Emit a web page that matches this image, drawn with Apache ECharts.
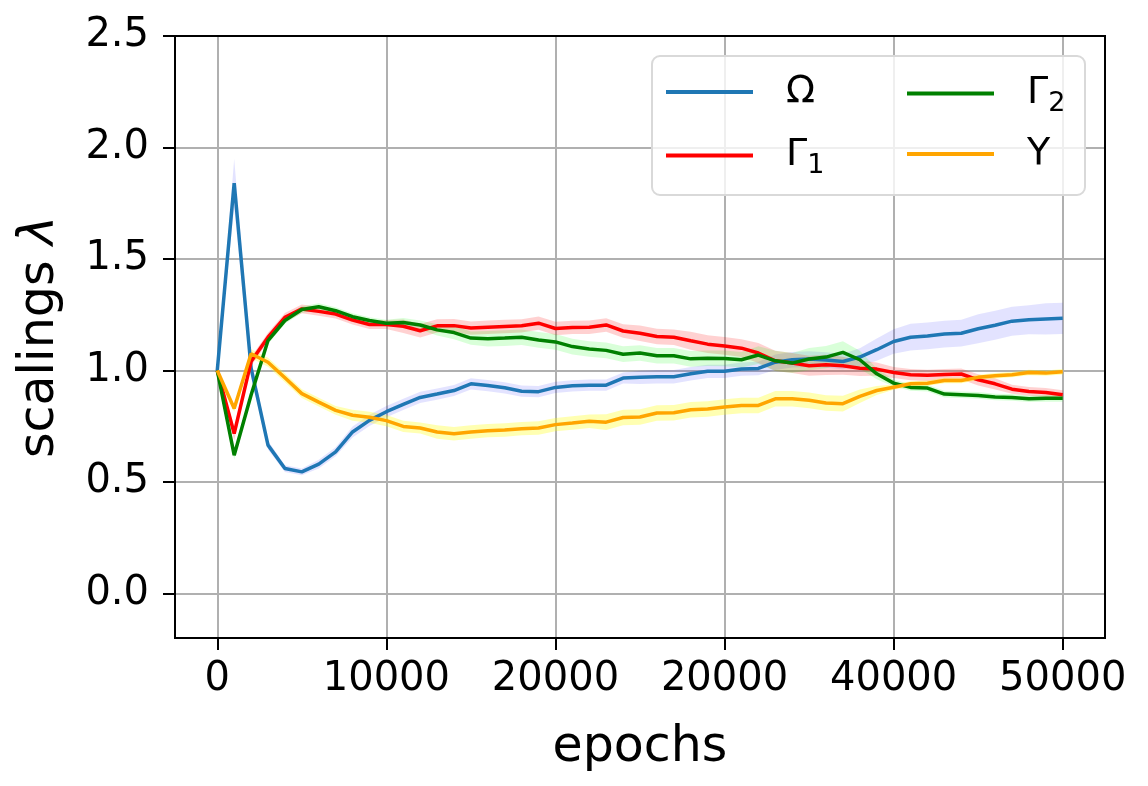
<!DOCTYPE html>
<html>
<head>
<meta charset="utf-8">
<script src="https://cdn.jsdelivr.net/npm/echarts@6/dist/echarts.min.js"></script>
<style>
html,body{margin:0;padding:0;background:#fff;}
#chart{width:1148px;height:786px;}
</style>
</head>
<body>
<div id="chart"></div>
<script>
const epochs = [0,1000,2000,3000,4000,5000,6000,7000,8000,9000,10000,11000,12000,13000,14000,15000,16000,17000,18000,19000,20000,21000,22000,23000,24000,25000,26000,27000,28000,29000,30000,31000,32000,33000,34000,35000,36000,37000,38000,39000,40000,41000,42000,43000,44000,45000,46000,47000,48000,49000,50000];

const omega = [1.0,1.84,1.01,0.665,0.56,0.545,0.58,0.635,0.724,0.776,0.815,0.848,0.879,0.894,0.91,0.94,0.932,0.922,0.907,0.905,0.924,0.931,0.934,0.934,0.966,0.969,0.972,0.972,0.985,0.996,0.996,1.006,1.009,1.037,1.048,1.051,1.047,1.04,1.06,1.093,1.13,1.149,1.155,1.163,1.167,1.187,1.203,1.221,1.227,1.231,1.234];
const gamma1 = [1.0,0.717,1.04,1.149,1.238,1.276,1.265,1.253,1.226,1.206,1.206,1.198,1.178,1.2,1.201,1.19,1.194,1.197,1.2,1.212,1.188,1.193,1.194,1.204,1.177,1.167,1.152,1.149,1.133,1.118,1.11,1.1,1.078,1.043,1.033,1.021,1.025,1.021,1.01,1.006,0.991,0.981,0.978,0.982,0.984,0.958,0.94,0.916,0.906,0.901,0.891];
const gamma2 = [1.0,0.62,0.89,1.134,1.224,1.273,1.286,1.268,1.241,1.224,1.212,1.215,1.204,1.182,1.17,1.145,1.142,1.145,1.149,1.137,1.128,1.107,1.096,1.09,1.073,1.078,1.066,1.066,1.052,1.055,1.054,1.048,1.069,1.043,1.033,1.051,1.06,1.081,1.048,0.985,0.943,0.924,0.921,0.894,0.891,0.888,0.881,0.879,0.873,0.875,0.875];
const upsilon = [1.0,0.829,1.075,1.037,0.967,0.896,0.858,0.821,0.799,0.79,0.775,0.749,0.742,0.724,0.716,0.724,0.73,0.733,0.739,0.742,0.757,0.764,0.772,0.768,0.789,0.791,0.809,0.81,0.824,0.827,0.836,0.843,0.843,0.873,0.873,0.866,0.854,0.851,0.884,0.91,0.925,0.94,0.943,0.955,0.955,0.969,0.976,0.981,0.991,0.988,0.994];

// half-widths of the shaded bands
const omegaSd = [0,0.11,0.04,0.02,0.015,0.015,0.02,0.02,0.025,0.025,0.025,0.025,0.025,0.025,0.025,0.025,0.025,0.025,0.025,0.025,0.025,0.025,0.025,0.025,0.025,0.03,0.03,0.03,0.03,0.03,0.03,0.03,0.03,0.035,0.035,0.035,0.035,0.035,0.04,0.05,0.055,0.06,0.06,0.06,0.06,0.065,0.065,0.065,0.065,0.07,0.07];
const gamma1Sd = [0,0.03,0.02,0.02,0.02,0.02,0.02,0.02,0.02,0.02,0.02,0.03,0.03,0.03,0.03,0.03,0.03,0.03,0.03,0.03,0.03,0.03,0.03,0.03,0.03,0.035,0.035,0.035,0.04,0.04,0.04,0.04,0.045,0.045,0.045,0.045,0.045,0.04,0.035,0.03,0.025,0.025,0.025,0.025,0.025,0.025,0.025,0.02,0.02,0.02,0.02];
const gamma2Sd = [0,0.02,0.015,0.015,0.015,0.015,0.015,0.015,0.015,0.015,0.015,0.02,0.02,0.025,0.03,0.03,0.035,0.035,0.035,0.035,0.035,0.035,0.035,0.035,0.035,0.035,0.035,0.035,0.035,0.035,0.035,0.035,0.04,0.045,0.045,0.05,0.05,0.05,0.04,0.025,0.015,0.015,0.015,0.015,0.015,0.015,0.015,0.015,0.015,0.015,0.015];
const upsilonSd = [0,0.015,0.02,0.02,0.02,0.02,0.02,0.02,0.025,0.025,0.025,0.025,0.025,0.03,0.03,0.03,0.03,0.03,0.03,0.03,0.03,0.03,0.03,0.035,0.035,0.035,0.035,0.035,0.035,0.035,0.035,0.035,0.035,0.035,0.035,0.035,0.035,0.035,0.03,0.02,0.012,0.012,0.012,0.012,0.012,0.012,0.012,0.012,0.012,0.012,0.012];

const xTickValues = [0,10000,20000,30000,40000,50000];
const xTickLabels = ['0','10000','20000','20000','40000','50000'];
const yTickValues = [0,0.5,1.0,1.5,2.0,2.5];
const yTickLabels = ['0.0','0.5','1.0','1.5','2.0','2.5'];

const seriesDefs = [
  {name:'Omega', label:'Ω', vals:omega, sd:omegaSd, color:'#1f77b4', band:'rgba(0,0,255,0.11)'},
  {name:'Gamma1', label:'Γ{sub|1}', vals:gamma1, sd:gamma1Sd, color:'#ff0000', band:'rgba(255,0,0,0.18)'},
  {name:'Gamma2', label:'Γ{sub|2}', vals:gamma2, sd:gamma2Sd, color:'#008000', band:'rgba(0,255,0,0.15)'},
  {name:'Upsilon', label:'Υ', vals:upsilon, sd:upsilonSd, color:'#ffa500', band:'rgba(255,255,0,0.3)'}
];
const labelMap = {};
seriesDefs.forEach(s => labelMap[s.name] = s.label);

const FONT = 'DejaVu Sans';
const chart = echarts.init(document.getElementById('chart'), null, {renderer:'canvas'});

const series = [];
seriesDefs.forEach(s => {
  series.push({
    type:'custom', name:s.name+'_band', silent:true, z:1,
    data:[[0]],
    renderItem:function(params, api){
      const pts = [];
      for (let i=0;i<epochs.length;i++) pts.push(api.coord([epochs[i], s.vals[i]+s.sd[i]]));
      for (let i=epochs.length-1;i>=0;i--) pts.push(api.coord([epochs[i], s.vals[i]-s.sd[i]]));
      return {type:'polygon', shape:{points:pts}, style:{fill:s.band}};
    }
  });
});
seriesDefs.forEach(s => {
  series.push({
    type:'line', name:s.name, z:3,
    data: epochs.map((e,i)=>[e, s.vals[i]]),
    showSymbol:false, symbol:'none',
    color:s.color,
    lineStyle:{color:s.color, width:3.5},
    animation:false
  });
});

const legendText = {
  fontFamily:FONT, fontSize:38, color:'#000', lineHeight:44, padding:[0,0,0,28],
  rich:{
    sub:{fontFamily:FONT, fontSize:27, color:'#000', lineHeight:44, padding:[20,0,0,0]}
  }
};
function mkLegend(name, left, top){
  return {
    data:[name], left:left, top:top, orient:'vertical', padding:0,
    itemWidth:87, itemHeight:4, icon:'rect',
    formatter:function(n){ return labelMap[n]; },
    textStyle:legendText, z:10, selectedMode:false
  };
}

chart.setOption({
  animation:false,
  backgroundColor:'#ffffff',
  grid:{left:175, right:43, top:36, bottom:148, show:true, borderColor:'#000', borderWidth:2, backgroundColor:'transparent', z:5},
  xAxis:{
    type:'value', min:-2500, max:52500,
    name:'epochs', nameLocation:'middle', nameGap:86,
    nameTextStyle:{fontFamily:FONT, fontSize:49, color:'#000'},
    axisLine:{show:true, onZero:false, lineStyle:{color:'#000', width:2}},
    axisTick:{show:true, length:12, lineStyle:{color:'#000', width:2}, customValues:xTickValues},
    axisLabel:{fontFamily:FONT, fontSize:40, color:'#000', margin:22, customValues:xTickValues,
      formatter:function(v){ const i = xTickValues.indexOf(v); return i>=0 ? xTickLabels[i] : ''; }},
    splitLine:{show:true, lineStyle:{color:'#b0b0b0', width:2}}
  },
  yAxis:{
    type:'value', min:-0.2, max:2.5,
    name:'scalings {i|λ}', nameLocation:'middle', nameGap:110,
    nameTextStyle:{fontFamily:FONT, fontSize:49, color:'#000', rich:{i:{fontFamily:FONT, fontSize:49, fontStyle:'italic', color:'#000'}}},
    axisLine:{show:true, onZero:false, lineStyle:{color:'#000', width:2}},
    axisTick:{show:true, length:12, lineStyle:{color:'#000', width:2}, customValues:yTickValues},
    axisLabel:{fontFamily:FONT, fontSize:40, color:'#000', margin:26, customValues:yTickValues,
      formatter:function(v){ for (let i=0;i<yTickValues.length;i++){ if (Math.abs(yTickValues[i]-v)<1e-9) return yTickLabels[i]; } return ''; }},
    splitLine:{show:true, lineStyle:{color:'#b0b0b0', width:2}}
  },
  legend:[
    mkLegend('Omega', 666, 70),
    mkLegend('Gamma1', 666, 132),
    mkLegend('Gamma2', 907, 70),
    mkLegend('Upsilon', 907, 132)
  ],
  graphic:[{
    type:'rect', z:8, silent:true,
    shape:{x:652, y:56, width:433, height:139, r:8},
    style:{fill:'rgba(255,255,255,0.8)', stroke:'#d9d9d9', lineWidth:2}
  }],
  series:series
});
</script>
</body>
</html>
